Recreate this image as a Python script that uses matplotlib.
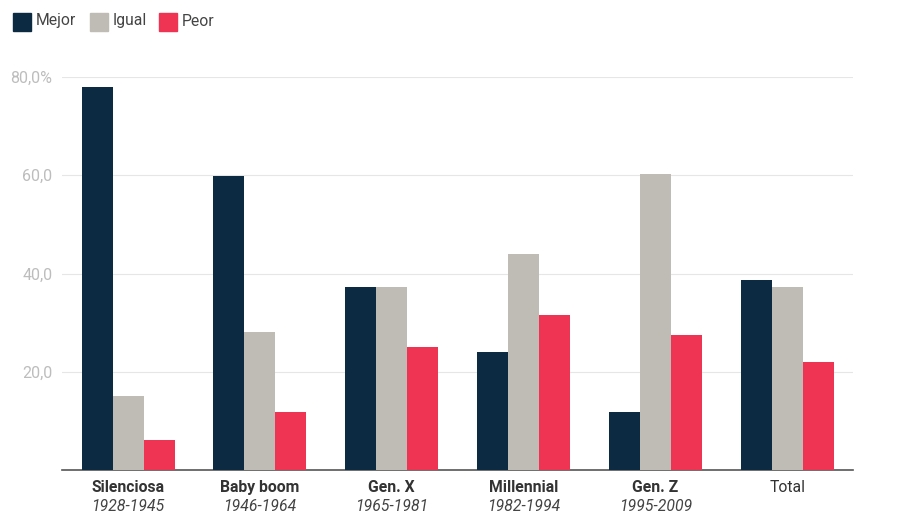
import matplotlib.pyplot as plt
import numpy as np

plt.rcParams['font.family'] = ['Roboto', 'DejaVu Sans']

groups = ['Silenciosa', 'Baby boom', 'Gen. X', 'Millennial', 'Gen. Z', 'Total']
years = ['1928-1945', '1946-1964', '1965-1981', '1982-1994', '1995-2009', '']
series = ['Mejor', 'Igual', 'Peor']
mejor = [78.0, 59.8, 37.2, 24.0, 11.8, 38.6]
igual = [15.0, 28.0, 37.2, 43.9, 60.2, 37.2]
peor = [6.1, 11.8, 25.0, 31.5, 27.4, 22.0]
colors = ['#0c2b42', '#bfbcb5', '#ee3353']
yticks = [20, 40, 60, 80]
ytick_labels = ['20,0', '40,0', '60,0', '80,0%']

fig = plt.figure(figsize=(9, 5.28), dpi=100)
ax = fig.add_axes([0.069, 0.11, 0.879, 0.744])

x = np.arange(len(groups))
w = 0.235
for i, (vals, name, c) in enumerate(zip([mejor, igual, peor], series, colors)):
    ax.bar(x + (i - 1) * w, vals, width=w, color=c, label=name, zorder=3)

ax.set_xlim(-0.5, len(groups) - 0.5)
ax.set_ylim(0, 80)
ax.set_yticks(yticks)
ax.set_yticklabels(ytick_labels)
ax.grid(axis='y', color='#e6e6e6', linewidth=0.8, zorder=0)
for s in ['top', 'right', 'left']:
    ax.spines[s].set_visible(False)
ax.spines['bottom'].set_color('#555555')
ax.spines['bottom'].set_linewidth(1.2)
ax.tick_params(axis='y', length=0, labelsize=11.5, labelcolor='#bdbdbd', pad=7)
ax.tick_params(axis='x', length=0)
ax.set_xticks(x)
ax.set_xticklabels([''] * len(groups))

for xi, g, yr in zip(x, groups, years):
    bold = 'bold' if yr else 'normal'
    ax.text(xi, -3.5, g, ha='center', va='center', fontsize=11.3, fontweight=bold,
            color='#333333', clip_on=False)
    if yr:
        ax.text(xi, -7.4, yr, ha='center', va='center', fontsize=11.3, style='italic',
                color='#444444', clip_on=False)

# legend drawn by hand in figure coordinates
leg_x = [13, 90, 159]
for lx, name, c in zip(leg_x, series, colors):
    fig.patches.append(plt.Rectangle((lx / 900, 1 - 31 / 528), 18 / 900, 18 / 528,
                                     transform=fig.transFigure, color=c, figure=fig))
    fig.text((lx + 23) / 900, 1 - 21 / 528, name, ha='left', va='center',
             fontsize=11.3, color='#444444')

fig.savefig('out.png', dpi=100)
